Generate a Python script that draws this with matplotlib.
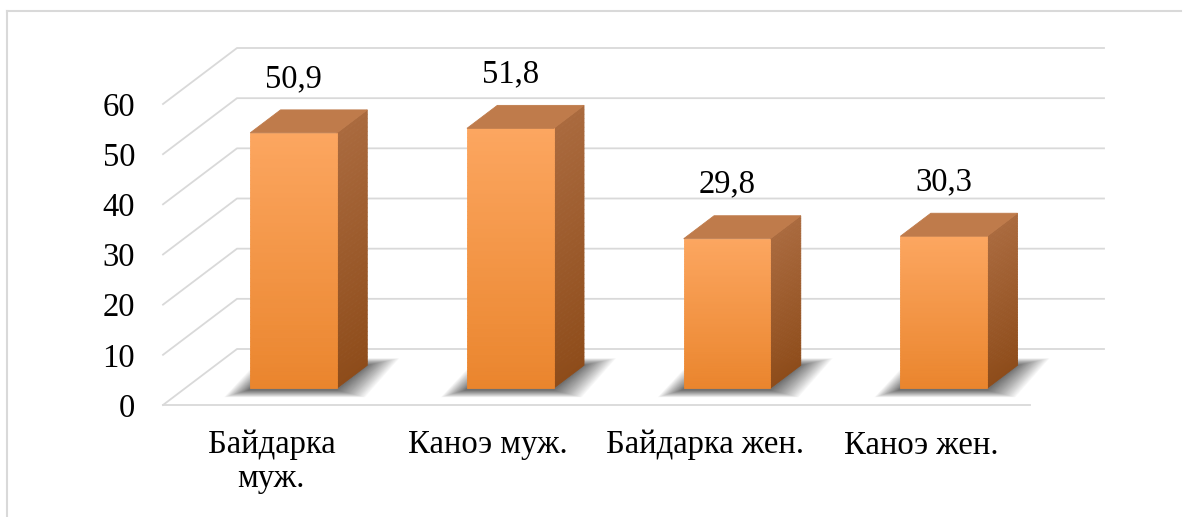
import numpy as np
import matplotlib
matplotlib.use('Agg')
import matplotlib.pyplot as plt
from matplotlib.patches import Polygon
from matplotlib.lines import Line2D
from matplotlib.colors import to_rgb
from matplotlib.transforms import IdentityTransform

# data
categories = ['Байдарка\nмуж.', 'Каноэ муж.', 'Байдарка жен.', 'Каноэ жен.']
values = [50.9, 51.8, 29.8, 30.3]
value_labels = ['50,9', '51,8', '29,8', '30,3']
y_ticks = [0, 10, 20, 30, 40, 50, 60]

plt.rcParams['font.family'] = ['Liberation Serif', 'DejaVu Serif']

W, H = 1192, 517
DEPTH = np.array([74.0, 56.0])   # px shift from the front plane to the back wall
F_FRONT, F_BACK = 0.30, 0.71     # depth of the bar faces (0 = front, 1 = back wall)
HALF_W = 0.2                     # half bar width, category units
FS = 23.5

GRID = '#D9D9D9'
FRONT_TOP, FRONT_BOT = '#FCA660', '#EA852D'
SIDE_TOP, SIDE_BOT = '#AA6A3E', '#8E4C1A'
TOP_FACE = '#BF7B4B'

fig = plt.figure(figsize=(W / 100, H / 100), dpi=100)
ax = fig.add_axes([163 / W, (H - 405) / H, 867 / W, 301 / H])
ax.set_xlim(-0.5, len(categories) - 0.5)
ax.set_ylim(0, 60)
ax.patch.set_visible(False)
for s in ax.spines.values():
    s.set_visible(False)
ax.set_xticks(range(len(categories)))
ax.set_xticklabels(categories, fontsize=FS, linespacing=1.12)
ax.set_yticks(y_ticks)
ax.set_yticklabels([str(t) for t in y_ticks], fontsize=FS)
ax.tick_params(length=0)
ax.tick_params(axis='y', pad=20)
ax.tick_params(axis='x', pad=18)

ident = IdentityTransform()


def proj(x, v, f):
    # front-plane data point pushed back to depth f, in display pixels
    return ax.transData.transform((x, v)) + f * DEPTH


def poly(pts, color, alpha=1.0, z=2, lw=0.6):
    solid = alpha == 1.0
    ax.add_patch(Polygon(pts, closed=True, transform=ident, clip_on=False,
                         facecolor=color, edgecolor=color if solid else 'none',
                         linewidth=lw if solid else 0, alpha=alpha, zorder=z))


def mix(c1, c2, t):
    a, b = np.array(to_rgb(c1)), np.array(to_rgb(c2))
    return tuple(a + (b - a) * t)


# walls: back gridlines, left diagonals, front floor edge
x0, x1 = ax.get_xlim()
for v in y_ticks:
    a, b, c = proj(x0, v, 0), proj(x0, v, 1), proj(x1, v, 1)
    ax.add_line(Line2D([a[0], b[0], c[0]], [a[1], b[1], c[1]], transform=ident,
                       color=GRID, lw=1.3, clip_on=False, zorder=1))
a, b = proj(x0, 0, 0), proj(x1, 0, 0)
ax.add_line(Line2D([a[0], b[0]], [a[1], b[1]], transform=ident,
                   color=GRID, lw=1.3, clip_on=False, zorder=1))

n_strips = 60
for i, val in enumerate(values):
    # soft shadow on the floor, built from stacked translucent layers
    fl, fr = proj(i - HALF_W, 0, F_FRONT), proj(i + HALF_W, 0, F_FRONT)
    br, bl = proj(i + HALF_W, 0, F_BACK), proj(i - HALF_W, 0, F_BACK)
    n_sh = 30
    for k in range(n_sh):
        g = (1 - k / n_sh) ** 1.3
        ex_l, ex_r, ey = 24 * g, 28 * g, 7 * g
        pts = [fl + [-ex_l - 2, -ey - 2], fr + [ex_r, -ey - 2],
               br + [ex_r + 4 * g, ey], bl + [-ex_l + 4 * g, ey]]
        poly(pts, '#333333', alpha=0.035, z=2)

    # front and side faces with vertical gradient
    for s in range(n_strips):
        v0, v1 = val * s / n_strips, val * (s + 1) / n_strips
        t = (s + 0.5) / n_strips
        poly([proj(i + HALF_W, v0, F_FRONT), proj(i + HALF_W, v0, F_BACK),
              proj(i + HALF_W, v1, F_BACK), proj(i + HALF_W, v1, F_FRONT)],
             mix(SIDE_BOT, SIDE_TOP, t), z=3)
        poly([proj(i - HALF_W, v0, F_FRONT), proj(i + HALF_W, v0, F_FRONT),
              proj(i + HALF_W, v1, F_FRONT), proj(i - HALF_W, v1, F_FRONT)],
             mix(FRONT_BOT, FRONT_TOP, t), z=4)

    # top face
    poly([proj(i - HALF_W, val, F_FRONT), proj(i + HALF_W, val, F_FRONT),
          proj(i + HALF_W, val, F_BACK), proj(i - HALF_W, val, F_BACK)], TOP_FACE, z=5)

    # value label
    px = proj(i, val, F_FRONT)[0]
    py = proj(i, val, F_BACK)[1] + 23
    ax.text(px, py, value_labels[i], transform=ident, ha='center', va='baseline',
            fontsize=FS, zorder=6)

# chart frame (only left and top edges are inside the crop)
fig.add_artist(Line2D([7.5 / W, 7.5 / W], [0, (H - 10.5) / H], transform=fig.transFigure,
                      color=GRID, lw=1.5))
fig.add_artist(Line2D([7.5 / W, 1181 / W], [(H - 10.5) / H, (H - 10.5) / H],
                      transform=fig.transFigure, color=GRID, lw=1.5))

fig.savefig('out.png', dpi=100)
